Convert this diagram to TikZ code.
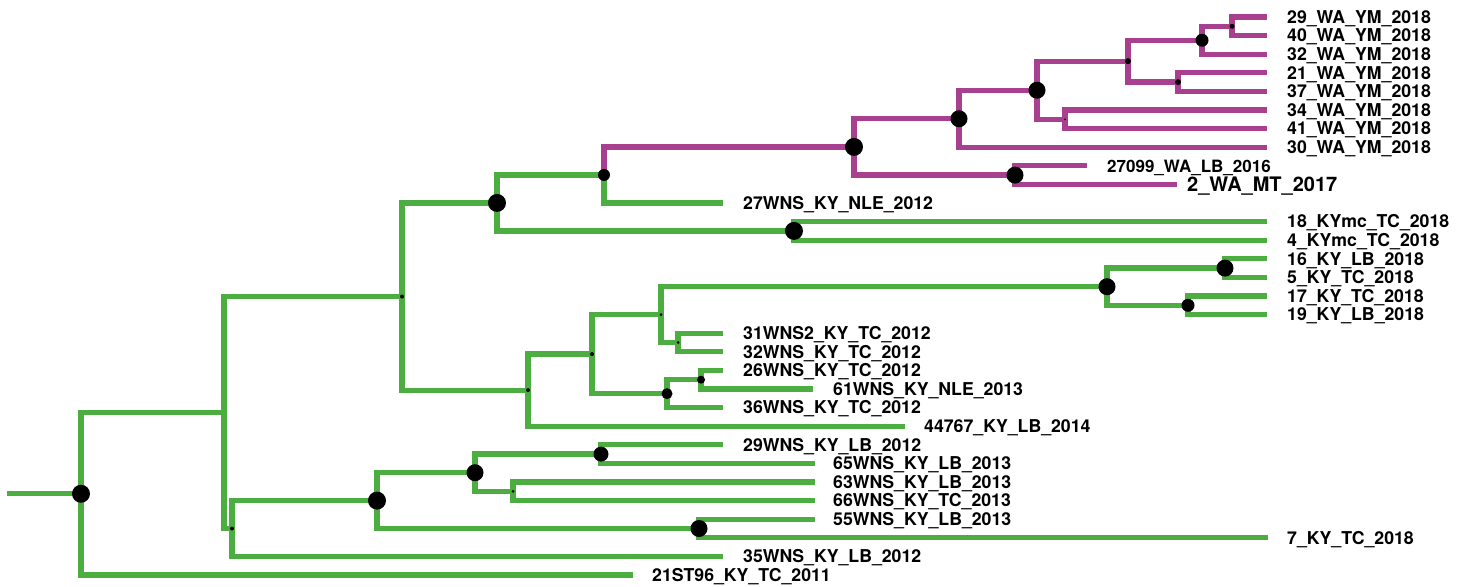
\documentclass[tikz,border=0pt]{standalone}
\usepackage{fontspec}
\setmainfont{TeX Gyre Heros}
\definecolor{kyGreen}{HTML}{4CAD40}
\definecolor{waPurple}{HTML}{A8408F}
\begin{document}
\begin{tikzpicture}[x=1pt,y=-1pt,
  br/.style={line width=5.3pt, draw=kyGreen, line join=miter},
  wa/.style={br, draw=waPurple},
  bs/.style={circle, fill=black, inner sep=0pt, minimum size=#1},
  lab/.style={anchor=base west, inner sep=0pt, xshift=20pt, yshift=-6.3pt,
              font=\fontsize{17.7}{20}\selectfont\bfseries}]
\useasboundingbox (0,0) rectangle (1466,586);

% ---- tips ----
\coordinate (t1)  at (1267,17.0);
\coordinate (t2)  at (1267,35.6);
\coordinate (t3)  at (1267,54.2);
\coordinate (t4)  at (1267,72.8);
\coordinate (t5)  at (1267,91.4);
\coordinate (t6)  at (1267,110.0);
\coordinate (t7)  at (1267,128.6);
\coordinate (t8)  at (1267,147.2);
\coordinate (t9)  at (1087,165.8);
\coordinate (t10) at (1177,184.4);
\coordinate (t11) at (723,203.0);
\coordinate (t12) at (1267,221.6);
\coordinate (t13) at (1267,240.2);
\coordinate (t14) at (1267,258.8);
\coordinate (t15) at (1267,277.4);
\coordinate (t16) at (1267,296.0);
\coordinate (t17) at (1267,314.6);
\coordinate (t18) at (723,333.2);
\coordinate (t19) at (723,351.8);
\coordinate (t20) at (723,370.4);
\coordinate (t21) at (813,389.0);
\coordinate (t22) at (723,407.6);
\coordinate (t23) at (905,426.2);
\coordinate (t24) at (723,444.8);
\coordinate (t25) at (815,463.4);
\coordinate (t26) at (815,482.0);
\coordinate (t27) at (815,500.6);
\coordinate (t28) at (815,519.2);
\coordinate (t29) at (1268,537.8);
\coordinate (t30) at (723,556.4);
\coordinate (t31) at (633,575.0);

% ---- internal nodes ----
\coordinate (stem) at (7,493.76);
\coordinate (root) at (81,493.76);
\coordinate (A)  at (224,412.52);
\coordinate (B)  at (402,296.54);
\coordinate (C)  at (232,528.5);
\coordinate (D)  at (377,500.6);
\coordinate (E)  at (475,472.7);
\coordinate (E1) at (601,454.1);
\coordinate (E2) at (513,491.3);
\coordinate (F)  at (699,528.5);
\coordinate (G)  at (497,202.93);
\coordinate (H)  at (528,390.15);
\coordinate (I)  at (604,174.96);
\coordinate (J)  at (794,230.9);
\coordinate (K)  at (854,146.91);
\coordinate (L)  at (959,118.72);
\coordinate (M)  at (1015,175.1);
\coordinate (N)  at (1037,90.24);
\coordinate (O)  at (1128,61.18);
\coordinate (P)  at (1065,119.3);
\coordinate (Q)  at (1202,40.25);
\coordinate (R)  at (1178,82.1);
\coordinate (S)  at (1232,26.3);
\coordinate (T)  at (1107,286.7);
\coordinate (U)  at (1225,268.1);
\coordinate (V)  at (1188,305.3);
\coordinate (W)  at (592,354.1);
\coordinate (X)  at (661,314.6);
\coordinate (Y)  at (667,393.65);
\coordinate (Z)  at (678,342.5);
\coordinate (AA) at (701,379.7);

% ---- green branches ----
\draw[br] (stem) -- (root);
\foreach \p/\c in {root/A, root/t31, A/B, A/C, B/G, B/H, G/I, G/J, I/t11,
                   J/t12, J/t13, H/W, H/t23, W/X, W/Y, X/T, X/Z,
                   T/U, T/V, U/t14, U/t15, V/t16, V/t17, Z/t18, Z/t19,
                   Y/AA, Y/t22, AA/t20, AA/t21, C/D, C/t30, D/E, D/F,
                   E/E1, E/E2, E1/t24, E1/t25, E2/t26, E2/t27, F/t28, F/t29}
  \draw[br] (\p) |- (\c);

% ---- purple branches ----
\foreach \p/\c in {I/K, K/L, K/M, L/N, L/t8, N/O, N/P, O/Q, O/R,
                   Q/S, Q/t3, S/t1, S/t2, R/t4, R/t5, P/t6, P/t7, M/t9, M/t10}
  \draw[wa] (\p) |- (\c);

% ---- support dots ----
\node[bs=18pt] (dRoot) at (root) {};
\node[bs=4pt]  (dB)  at (B)  {};
\node[bs=4pt]  (dC)  at (C)  {};
\node[bs=18pt] (dD)  at (D)  {};
\node[bs=17pt] (dE)  at (E)  {};
\node[bs=15pt] (dE1) at (E1) {};
\node[bs=3pt]  (dE2) at (E2) {};
\node[bs=17pt] (dF)  at (F)  {};
\node[bs=18pt] (dG)  at (G)  {};
\node[bs=4pt]  (dH)  at (H)  {};
\node[bs=12pt] (dI)  at (I)  {};
\node[bs=18pt] (dJ)  at (J)  {};
\node[bs=18pt] (dK)  at (K)  {};
\node[bs=17pt] (dL)  at (L)  {};
\node[bs=17pt] (dM)  at (M)  {};
\node[bs=17pt] (dN)  at (N)  {};
\node[bs=6pt]  (dO)  at (O)  {};
\node[bs=2pt]  (dP)  at (P)  {};
\node[bs=13pt] (dQ)  at (Q)  {};
\node[bs=6pt]  (dR)  at (R)  {};
\node[bs=5pt]  (dS)  at (S)  {};
\node[bs=17pt] (dT)  at (T)  {};
\node[bs=17pt] (dU)  at (U)  {};
\node[bs=13pt] (dV)  at (V)  {};
\node[bs=4pt]  (dW)  at (W)  {};
\node[bs=3pt]  (dX)  at (X)  {};
\node[bs=11pt] (dY)  at (Y)  {};
\node[bs=3pt]  (dZ)  at (Z)  {};
\node[bs=8pt]  (dAA) at (AA) {};

% ---- tip labels ----
\node[lab] (l1)  at (t1)  {29\_WA\_YM\_2018};
\node[lab] (l2)  at (t2)  {40\_WA\_YM\_2018};
\node[lab] (l3)  at (t3)  {32\_WA\_YM\_2018};
\node[lab] (l4)  at (t4)  {21\_WA\_YM\_2018};
\node[lab] (l5)  at (t5)  {37\_WA\_YM\_2018};
\node[lab] (l6)  at (t6)  {34\_WA\_YM\_2018};
\node[lab] (l7)  at (t7)  {41\_WA\_YM\_2018};
\node[lab] (l8)  at (t8)  {30\_WA\_YM\_2018};
\node[lab, font=\fontsize{17}{20}\selectfont\bfseries, yshift=-0.1pt] (l9) at (t9) {27099\_WA\_LB\_2016};
\node[lab, xshift=-10pt, yshift=-0.9pt, font=\fontsize{20}{22}\selectfont\bfseries] (l10) at (t10) {2\_WA\_MT\_2017};
\node[lab] (l11) at (t11) {27WNS\_KY\_NLE\_2012};
\node[lab] (l12) at (t12) {18\_KYmc\_TC\_2018};
\node[lab] (l13) at (t13) {4\_KYmc\_TC\_2018};
\node[lab] (l14) at (t14) {16\_KY\_LB\_2018};
\node[lab] (l15) at (t15) {5\_KY\_TC\_2018};
\node[lab] (l16) at (t16) {17\_KY\_TC\_2018};
\node[lab] (l17) at (t17) {19\_KY\_LB\_2018};
\node[lab] (l18) at (t18) {31WNS2\_KY\_TC\_2012};
\node[lab] (l19) at (t19) {32WNS\_KY\_TC\_2012};
\node[lab] (l20) at (t20) {26WNS\_KY\_TC\_2012};
\node[lab] (l21) at (t21) {61WNS\_KY\_NLE\_2013};
\node[lab] (l22) at (t22) {36WNS\_KY\_TC\_2012};
\node[lab, xshift=-1pt] (l23) at (t23) {44767\_KY\_LB\_2014};
\node[lab] (l24) at (t24) {29WNS\_KY\_LB\_2012};
\node[lab, xshift=-2pt] (l25) at (t25) {65WNS\_KY\_LB\_2013};
\node[lab, xshift=-2pt] (l26) at (t26) {63WNS\_KY\_LB\_2013};
\node[lab, xshift=-2pt] (l27) at (t27) {66WNS\_KY\_TC\_2013};
\node[lab, xshift=-2pt] (l28) at (t28) {55WNS\_KY\_LB\_2013};
\node[lab, xshift=-1pt] (l29) at (t29) {7\_KY\_TC\_2018};
\node[lab] (l30) at (t30) {35WNS\_KY\_LB\_2012};
\node[lab, xshift=-1pt] (l31) at (t31) {21ST96\_KY\_TC\_2011};
\end{tikzpicture}
\end{document}
